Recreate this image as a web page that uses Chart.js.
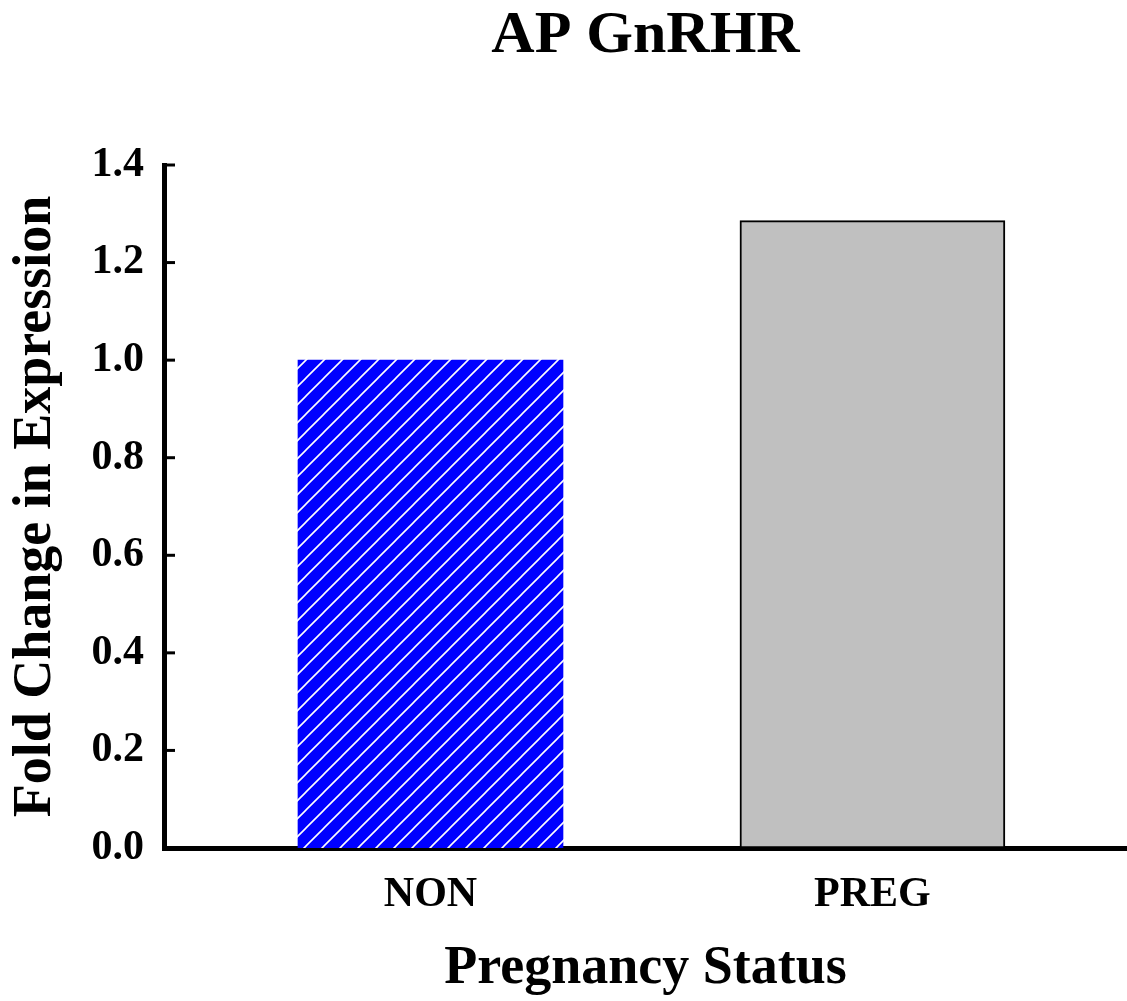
<!DOCTYPE html>
<html>
<head>
<meta charset="utf-8">
<script src="https://cdn.jsdelivr.net/npm/chart.js@4.4.1/dist/chart.umd.min.js"></script>
<style>
  html, body { margin: 0; padding: 0; background: #fff; }
  #wrap { width: 1127px; height: 1001px; }
</style>
</head>
<body>
<div id="wrap"><canvas id="chart" width="1127" height="1001"></canvas></div>
<script>
// ---------- Data ----------
const chartTitle = "AP GnRHR";
const categories = ["NON", "PREG"];
const foldChange = [1.0, 1.286];
const yTicks = [0, 0.2, 0.4, 0.6, 0.8, 1.0, 1.2, 1.4];
const xTitle = "Pregnancy Status";
const yTitle = "Fold Change in Expression";

const serif = "'Liberation Serif', 'Times New Roman', serif";

// ---------- Hatch pattern for NON bar ----------
function makeHatch(ctx) {
  const s = 18;
  const c = document.createElement("canvas");
  c.width = s; c.height = s;
  const g = c.getContext("2d");
  g.fillStyle = "#0000ff";
  g.fillRect(0, 0, s, s);
  g.strokeStyle = "#ffffff";
  g.lineWidth = 1.6;
  g.beginPath();
  g.moveTo(-2, s + 2); g.lineTo(s + 2, -2);
  g.moveTo(-2, 2); g.lineTo(2, -2);
  g.moveTo(s - 2, s + 2); g.lineTo(s + 2, s - 2);
  g.stroke();
  return ctx.createPattern(c, "repeat");
}

// inward tick marks on the y axis
const inwardTicks = {
  id: "inwardTicks",
  afterDraw(chart) {
    const { ctx, chartArea, scales } = chart;
    ctx.save();
    ctx.strokeStyle = "#000";
    ctx.lineWidth = 3;
    yTicks.forEach(v => {
      const y = scales.y.getPixelForValue(v);
      ctx.beginPath();
      ctx.moveTo(chartArea.left, y);
      ctx.lineTo(chartArea.left + 11, y);
      ctx.stroke();
    });
    ctx.restore();
  }
};

const ctx = document.getElementById("chart").getContext("2d");
const hatch = makeHatch(ctx);

new Chart(ctx, {
  type: "bar",
  data: {
    datasets: [{
      xAxisID: "x",
      yAxisID: "y",
      data: categories.map((c, i) => ({ x: i + 1, y: foldChange[i] })),
      backgroundColor: [hatch, "#c0c0c0"],
      borderColor: ["rgba(0,0,0,0)", "#000000"],
      borderWidth: [0, 2],
      borderSkipped: false,
      barThickness: 265
    }]
  },
  options: {
    responsive: false,
    animation: false,
    devicePixelRatio: 1,
    layout: { padding: 0 },
    plugins: {
      legend: { display: false },
      tooltip: { enabled: false },
      title: { display: false }
    },
    scales: {
      x: {
        type: "linear",
        offset: false,
        min: 0.397,
        max: 2.576,
        grid: { display: false, drawTicks: false },
        border: { display: true, color: "#000", width: 5 },
        afterBuildTicks: (scale) => { scale.ticks = categories.map((c, i) => ({ value: i + 1 })); },
        afterFit: (scale) => { scale.height = 153; },
        ticks: {
          color: "#000",
          padding: 22,
          font: { family: serif, weight: "bold", size: 42, lineHeight: 1.2 },
          callback: (v, i) => categories[i]
        },
        title: {
          display: true,
          text: xTitle,
          color: "#000",
          font: { family: serif, weight: "bold", size: 54, lineHeight: 1.2 },
          padding: { top: 0, bottom: 0 }
        }
      },
      y: {
        min: 0,
        max: 1.4,
        grid: { display: false, drawTicks: false },
        border: { display: true, color: "#000", width: 5 },
        afterBuildTicks: (scale) => { scale.ticks = yTicks.map(v => ({ value: v })); },
        afterFit: (scale) => { scale.width = 164; },
        ticks: {
          color: "#000",
          padding: 20,
          font: { family: serif, weight: "bold", size: 42, lineHeight: 1.2 },
          callback: (v) => Number(v).toFixed(1)
        },
        title: {
          display: true,
          text: yTitle,
          color: "#000",
          font: { family: serif, weight: "bold", size: 54, lineHeight: 1.2 },
          padding: { top: 4, bottom: 0 }
        }
      },
      // top axis only carries the chart title, centred over the plot area
      top: {
        type: "linear",
        axis: "x",
        position: "top",
        display: true,
        grid: { display: false, drawTicks: false },
        border: { display: false },
        ticks: { display: false },
        afterFit: (scale) => { scale.height = 165; },
        title: {
          display: true,
          text: chartTitle,
          color: "#000",
          font: { family: serif, weight: "bold", size: 60, lineHeight: 1.0 },
          padding: { top: 6, bottom: 0 }
        }
      }
    }
  },
  plugins: [inwardTicks]
});
</script>
</body>
</html>
